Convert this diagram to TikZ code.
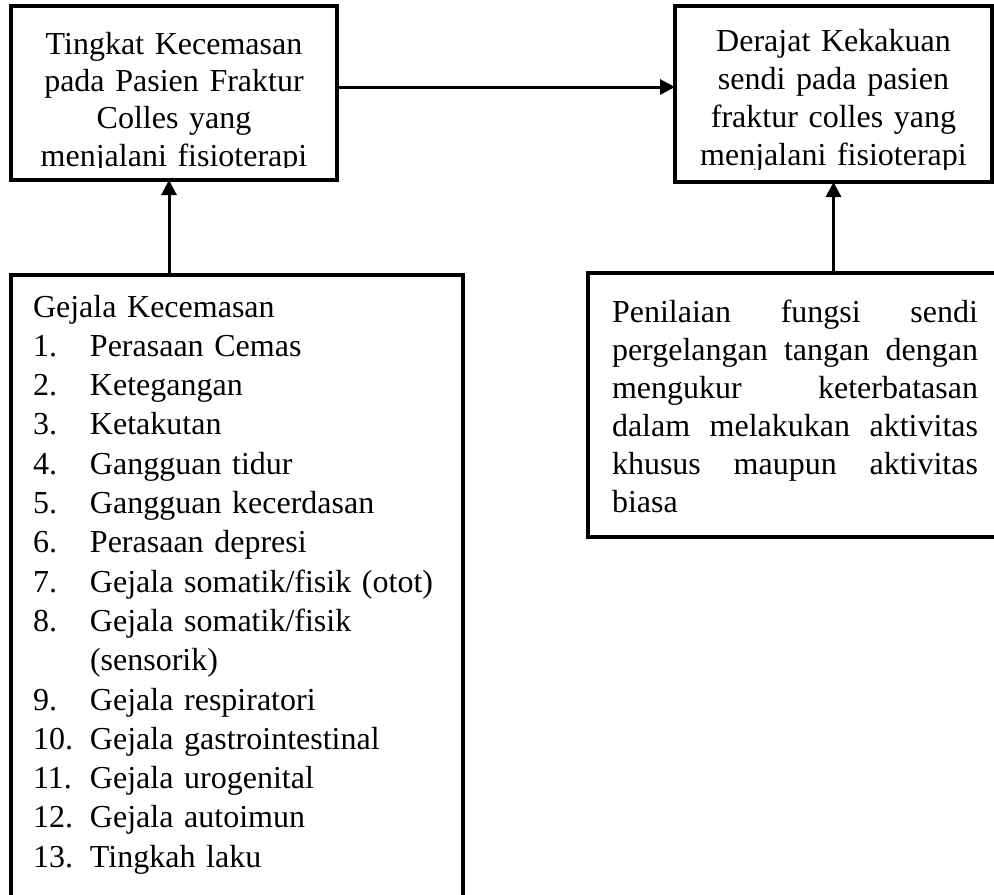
\documentclass[tikz,border=0pt]{standalone}
\usepackage{fontspec}
\setmainfont{Liberation Serif}
\usetikzlibrary{arrows.meta, positioning}
\newcommand{\butir}[2]{\makebox[28.5pt][l]{#1}#2}

\begin{document}
\begin{tikzpicture}[
  x=0.5pt, y=-0.5pt,
  kotak/.style={draw, line width=2pt, outer sep=0pt, inner ysep=0pt},
  judul/.style={kotak, align=center, font=\fontsize{16pt}{18.7pt}\selectfont},
  daftar/.style={kotak, font=\fontsize{16pt}{19.65pt}\selectfont},
  panah/.style={-{Triangle[length=7.5pt, width=7.5pt]}, line width=1.5pt}
]
\useasboundingbox (0,0) rectangle (994,894);
\clip (0,0) rectangle (994,894);

% dua kotak atas
\node[judul, anchor=north west, text width=150pt, inner xsep=6.5pt,
      text height=24pt, text depth=63pt] (tingkat) at (11,6) {
  Tingkat Kecemasan\\
  pada Pasien Fraktur\\
  Colles yang\\
  menjalani fisioterapi
};
\node[judul, right=169pt of tingkat.north east, anchor=north west, text width=146pt,
      inner xsep=6.25pt, text height=22.5pt, text depth=65.5pt,
      font=\fontsize{16pt}{19pt}\selectfont] (derajat) {
  Derajat Kekakuan\\
  sendi pada pasien\\
  fraktur colles yang\\
  menjalani fisioterapi
};
% baris terakhir terpotong di tepi bawah kotak teks
\fill[white] ([xshift=1pt, yshift=1pt]tingkat.south west) rectangle ([xshift=-1pt, yshift=6pt]tingkat.south east);
\fill[white] ([xshift=1pt, yshift=1pt]derajat.south west) rectangle ([xshift=-1pt, yshift=6pt]derajat.south east);

% dua kotak bawah
\node[daftar, align=left, below=47.5pt of tingkat.south west, anchor=north west,
      text width=204pt, inner xsep=11pt, text height=21pt, text depth=296.5pt] (gejala) {
  Gejala Kecemasan\\
  \butir{1.}{Perasaan Cemas}\\
  \butir{2.}{Ketegangan}\\
  \butir{3.}{Ketakutan}\\
  \butir{4.}{Gangguan tidur}\\
  \butir{5.}{Gangguan kecerdasan}\\
  \butir{6.}{Perasaan depresi}\\
  \butir{7.}{Gejala somatik/fisik (otot)}\\
  \butir{8.}{Gejala somatik/fisik}\\
  \butir{}{(sensorik)}\\
  \butir{9.}{Gejala respiratori}\\
  \butir{10.}{Gejala gastrointestinal}\\
  \butir{11.}{Gejala urogenital}\\
  \butir{12.}{Gejala autoimun}\\
  \butir{13.}{Tingkah laku}
};
\node[judul, align=justify, below=45.5pt of derajat.south west, anchor=north west,
      xshift=-43.5pt, text width=183pt, inner xsep=12pt,
      text height=24.5pt, text depth=107.5pt,
      font=\fontsize{16pt}{19pt}\selectfont] (penilaian) {
  Penilaian fungsi sendi\linebreak
  pergelangan tangan dengan\linebreak
  mengukur keterbatasan\linebreak
  dalam melakukan aktivitas\linebreak
  khusus maupun aktivitas\linebreak
  biasa
};

% panah
\draw[panah] ([yshift=3pt]tingkat.east) -- ([yshift=3pt]tingkat.east -| derajat.west);
\draw[panah] ([xshift=-2.5pt]gejala.north -| tingkat.south) -- ([xshift=-2.5pt]tingkat.south);
\draw[panah] (penilaian.north -| derajat.south) -- (derajat.south);
\end{tikzpicture}
\end{document}
